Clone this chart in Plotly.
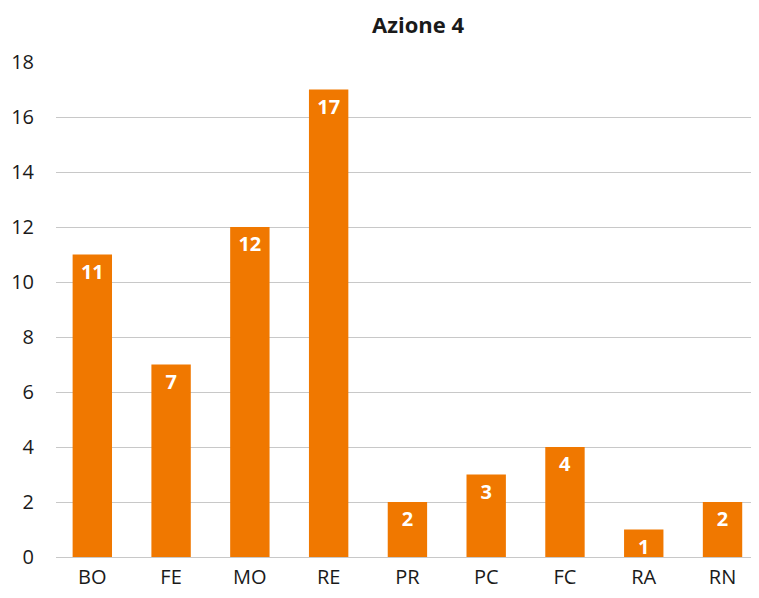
import plotly.graph_objects as go

categories = ["BO", "FE", "MO", "RE", "PR", "PC", "FC", "RA", "RN"]
values = [11, 7, 12, 17, 2, 3, 4, 1, 2]
y_ticks = [0, 2, 4, 6, 8, 10, 12, 14, 16, 18]

ORANGE = "#F07800"
FONT = "Open Sans"

fig = go.Figure()

fig.add_trace(go.Bar(
    x=categories,
    y=values,
    text=[str(v) for v in values],
    textposition="inside",
    insidetextanchor="end",
    constraintext="none",
    textangle=0,
    textfont=dict(family=FONT, size=20, color="white", weight="bold"),
    marker=dict(color=ORANGE, line=dict(width=0)),
    width=0.5,
    cliponaxis=False,
))

# page body has an 8px margin, so the figure is a bit smaller than the window
fig.update_layout(
    width=751,
    height=590,
    margin=dict(l=48, r=0, t=54, b=41),
    plot_bgcolor="white",
    paper_bgcolor="white",
    font=dict(family=FONT, color="#1a1a1a"),
    title=dict(
        text="<b>Azione 4</b>",
        x=0.546,
        xanchor="center",
        y=0.971,
        yanchor="middle",
        font=dict(family=FONT, size=22, color="#1a1a1a"),
    ),
    showlegend=False,
)

fig.update_xaxes(
    range=[-0.461, 8.463],
    showgrid=False,
    showline=False,
    ticks="",
    automargin=False,
    tickfont=dict(size=20, color="#1a1a1a"),
    ticklabelstandoff=6,
)

fig.update_yaxes(
    range=[0, 18],
    tickvals=y_ticks,
    showgrid=True,
    gridcolor="#C8C8C8",
    gridwidth=1,
    zeroline=True,
    zerolinecolor="#C8C8C8",
    zerolinewidth=1,
    ticks="",
    automargin=False,
    tickfont=dict(size=20, color="#1a1a1a"),
    ticklabelstandoff=21,
)

fig.write_html("out.html")
